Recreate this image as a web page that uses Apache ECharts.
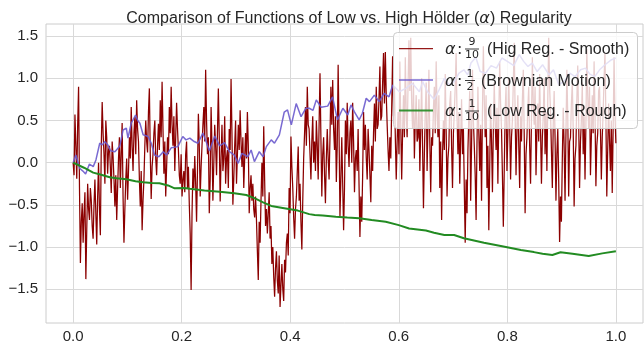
<!DOCTYPE html>
<html><head><meta charset="utf-8">
<script src="https://cdn.jsdelivr.net/npm/echarts@6/dist/echarts.min.js"></script>
<style>html,body{margin:0;padding:0;background:#fff}#c{width:644px;height:343px}</style>
</head><body><div id="c"></div>
<script>
const xTicks = [0, 0.2, 0.4, 0.6, 0.8, 1.0];
const yTicks = [-1.5, -1.0, -0.5, 0.0, 0.5, 1.0, 1.5];
const titleText = 'Comparison of Functions of Low vs. High Hölder ({i|α}) Regularity';
const legendNum = ['9', '1', '1'];
const legendDen = ['10', '2', '10'];
const legendText = ['(Hig Reg. - Smooth)', '(Brownian Motion)', '(Low Reg. - Rough)'];
const seriesNames = ['α: 9/10 (Hig Reg. - Smooth)', 'α: 1/2 (Brownian Motion)', 'α: 1/10 (Low Reg. - Rough)'];

// red series: evenly sampled on [0, 1]
const roughValues = [
 0.0, -0.15, 0.57, 0.20, -0.19, 0.45, 0.90, -0.30, -1.19, -0.70, -0.48, -0.95, -0.60, -0.35, -1.38, -0.80, -0.25, -0.55, -0.68, -0.30,
 -0.45, -0.75, -0.90, -0.50, -0.20, -0.60, -0.97, -0.40, 0.00, -0.55, -0.86, 0.20, 0.72, 0.35, 0.10, -0.25, 0.50, 0.30, -0.13, 0.15,
 0.20, -0.05, -0.36, 0.25, 0.07, -0.20, -0.52, -0.15, -0.68, -0.30, 0.05, 0.30, -0.30, 0.10, 0.47, -0.40, -0.95, -0.55, -0.20, 0.05,
 -0.44, -0.10, 0.30, 0.05, 0.66, 0.20, -0.10, 0.35, 0.54, 0.10, 0.74, 0.40, 0.25, -0.20, -0.52, -0.10, -0.80, -0.45, -0.20, 0.20,
 0.50, 0.25, 0.12, 0.60, 0.88, 0.10, -0.43, -0.05, 0.10, 0.35, 0.50, 0.05, -0.15, 0.20, 0.46, 0.15, 0.74, 0.30, 0.96, 0.40,
 -0.13, 0.25, -0.40, -0.05, 0.30, 0.10, 0.66, 0.35, 0.90, 0.45, 0.20, 0.55, -0.10, 0.30, 0.71, 0.40, 0.15, -0.15, -0.25, 0.10,
 -0.40, -0.20, -0.10, -0.35, 0.10, 0.25, -0.30, -0.05, -0.50, -0.85, -1.51, -0.60, -0.07, -0.30, 0.08, -0.25, -0.70, -0.10, 0.58, 0.20,
 -0.40, -0.05, 0.20, 0.45, 0.66, 0.25, 1.10, 0.50, 0.10, 0.30, -0.60, -0.20, 0.66, 0.20, -0.45, 0.00, 0.45, 0.20, -0.15, 0.35,
 0.88, 0.30, -0.46, 0.05, 0.45, -0.10, 0.05, 0.55, -0.25, 0.05, 0.15, -0.30, 0.40, 0.15, 0.99, 0.35, -0.50, -0.20, 0.20, 0.50,
 -0.25, 0.10, 0.45, 0.15, 0.62, 0.25, -0.05, 0.30, -0.30, 0.05, 0.35, 0.05, 0.60, 0.20, -0.60, -0.30, -0.15, -0.45, -0.25, -0.55,
 -0.65, -0.40, -0.68, -1.05, -1.39, -0.70, -0.95, -0.45, 0.00, -0.40, 0.43, -0.20, -0.75, -0.55, -0.84, -0.60, -0.35, -0.90, -0.75, -1.20,
 -1.00, -1.35, -1.59, -1.25, -1.05, -1.40, -1.55, -1.10, -1.71, -1.45, -1.20, -1.50, -1.64, -1.15, -1.30, -0.95, -0.84, -1.10, -0.30, -0.60,
 0.31, -0.05, -0.30, -0.65, -0.90, -0.55, -0.40, -0.10, 0.19, -0.45, -0.25, -0.70, -1.03, -0.45, 0.05, 0.35, 0.66, 0.20, 0.90, 0.45,
 0.40, 0.10, -0.20, 0.25, 0.55, 0.00, 0.25, -0.10, 0.50, 0.20, -0.20, 0.45, 1.06, 0.30, -0.40, 0.10, 0.30, -0.15, -0.48, 0.05,
 0.40, 0.05, -0.20, 0.30, 0.90, 0.45, 0.98, 0.40, 0.15, 0.55, -0.23, 0.20, 1.16, 0.35, -0.64, -0.20, 0.30, -0.25, -0.80, -0.30,
 0.50, 0.10, 0.71, 0.20, -0.05, 0.35, 0.50, 0.00, 0.71, 0.25, -0.35, 0.05, 0.15, -0.10, 0.40, -0.25, -0.88, -0.40, -0.70, -0.15,
 0.60, 0.15, 0.45, 0.05, -0.20, 0.40, 0.15, -0.15, -0.47, 0.20, -0.10, 0.35, 0.70, 0.25, 0.90, 0.40, 0.45, 0.75, 1.14, 0.50,
 0.55, 0.95, 1.30, 0.70, 1.31, 0.80, 0.45, 0.15, -0.10, 0.30, 0.05, 0.65, 1.26, 0.55, 0.90, 0.30, -0.20, 0.25, 0.60, 0.10,
 1.20, 0.45, -0.20, 0.35, 0.80, 0.30, 1.25, 0.60, 0.30, 0.90, 1.45, 0.85, 1.48, 0.70, 0.40, 0.95, 0.05, 0.50, 0.80, 0.25,
 0.30, 0.75, -0.10, 0.40, 1.00, 0.20, -0.54, 0.10, 0.60, 0.95, -0.10, 0.45, 1.10, 0.25, -0.35, 0.30, 0.20, 0.65, 0.90, 0.35,
 1.20, 0.60, 0.30, 0.80, -0.30, 0.25, -0.68, 0.10, 0.50, 0.15, 1.05, 0.40, -0.40, 0.05, 0.20, 0.70, 0.85, 0.20, -0.30, 0.35,
 0.60, 0.90, 1.30, 0.55, 0.10, 0.60, -0.25, 0.30, 0.75, 0.10, 0.40, -0.30, -0.95, -0.20, -0.60, 0.15, 0.55, 0.85, -0.45, 0.20,
 1.10, 0.50, 0.20, -0.15, -0.68, 0.25, 0.90, 0.35, -0.10, 0.45, -0.45, 0.60, 1.38, 0.75, 0.30, 0.80, -0.30, 0.20, -0.80, -0.05,
 0.70, 0.25, -0.35, 0.40, 0.95, 0.50, 0.15, 0.65, -0.25, 0.55, 1.20, 0.70, 0.40, -0.15, -0.76, -0.10, 0.60, 0.90, -0.10, 0.35,
 1.00, 0.45, -0.20, 0.30, 0.50, 0.95, 1.42, 0.60, -0.15, 0.40, 0.80, 0.20, -0.30, 0.55, 0.25, 0.75, 1.10, 0.35, -0.60, 0.10,
 0.30, 0.65, 0.90, 0.20, -0.25, 0.50, 1.25, 0.70, 0.45, 0.90, -0.15, 0.35, 0.70, 0.25, 1.05, 0.40, -0.25, 0.30, 0.55, 1.00,
 0.10, 0.60, -0.10, 0.75, 1.48, 0.90, 0.60, 0.15, -0.30, 0.45, 0.85, 0.30, -0.45, 0.10, 0.40, -0.20, -0.94, -0.40, -0.70, 0.05,
 0.65, 0.20, -0.45, 0.35, 1.10, 0.55, -0.40, 0.25, 0.30, 0.70, 0.95, 0.40, -0.52, 0.05, 0.20, 0.75, 1.15, 0.50, -0.30, 0.25,
 0.50, 0.95, 0.10, 0.55, -0.20, 0.45, 1.35, 0.80, 0.40, 0.90, -0.15, 0.30, 0.80, 0.35, 1.20, 0.60, -0.28, 0.20, 0.35, 0.85,
 0.90, 0.40, -0.20, 0.30, 0.60, 1.00, 1.30, 0.55, -0.40, 0.15, 0.70, 0.25, -0.10, 0.50, -0.36, 0.40, 1.25, 0.60, 0.23
];

// blue series [x, y]
const brownian = [
 [0,0],[0.005,0.09],[0.012,-0.066],[0.018,-0.10],[0.023,-0.134],[0.030,-0.016],[0.037,-0.047],[0.042,0.032],
 [0.049,0.23],[0.054,0.21],[0.058,0.25],[0.064,0.21],[0.069,0.14],[0.077,0.13],[0.086,0.198],[0.092,0.387],
 [0.098,0.41],[0.101,0.29],[0.107,0.467],[0.115,0.565],[0.119,0.50],[0.123,0.467],[0.129,0.33],[0.138,0.31],
 [0.144,0.23],[0.150,0.09],[0.158,0.07],[0.166,0.13],[0.172,0.09],[0.181,0.178],[0.193,0.19],[0.202,0.31],
 [0.208,0.27],[0.215,0.29],[0.223,0.25],[0.230,0.23],[0.239,0.35],[0.245,0.25],[0.251,0.139],[0.261,0.316],
 [0.270,0.198],[0.279,0.237],[0.288,0.13],[0.297,0.09],[0.304,-0.008],[0.311,0.11],[0.322,0.07],[0.328,0.15],
 [0.334,0.012],[0.343,0.13],[0.350,0.07],[0.356,0.19],[0.365,0.27],[0.371,0.23],[0.380,0.33],[0.389,0.60],
 [0.395,0.625],[0.402,0.447],[0.411,0.70],[0.420,0.545],[0.429,0.645],[0.435,0.645],[0.442,0.62],[0.448,0.743],
 [0.457,0.656],[0.469,0.67],[0.478,0.78],[0.487,0.506],[0.497,0.645],[0.506,0.565],[0.512,0.684],[0.518,0.604],
 [0.527,0.506],[0.533,0.585],[0.540,0.763],[0.546,0.723],[0.555,0.80],[0.564,0.723],[0.573,0.822],[0.582,0.78],
 [0.589,0.92],[0.601,0.84],[0.613,0.88],[0.625,0.94],[0.638,0.84],[0.644,0.96],[0.653,0.84],[0.665,0.75],
 [0.674,0.86],[0.684,1.00],[0.693,0.92],[0.702,0.96],[0.711,1.06],[0.720,1.10],[0.727,1.04],[0.733,1.18],
 [0.742,1.25],[0.750,1.08],[0.760,1.06],[0.770,1.15],[0.780,1.12],[0.790,1.24],[0.800,1.20],[0.812,1.15],
 [0.822,1.28],[0.830,1.20],[0.838,1.14],[0.846,1.18],[0.855,1.08],[0.865,1.16],[0.877,1.04],[0.885,1.10],
 [0.895,0.92],[0.907,0.98],[0.915,1.06],[0.925,1.02],[0.935,1.10],[0.944,1.12],[0.952,1.05],[0.961,1.02],
 [0.970,1.10],[0.980,1.16],[0.992,1.22],[1.0,1.24]
];

// green series [x, y]
const smooth = [
 [0,0],[0.02,-0.06],[0.037,-0.118],[0.05,-0.14],[0.0675,-0.173],[0.08,-0.185],[0.098,-0.197],[0.115,-0.22],
 [0.129,-0.233],[0.145,-0.24],[0.159,-0.245],[0.175,-0.27],[0.187,-0.304],[0.205,-0.30],[0.215,-0.31],[0.242,-0.33],
 [0.27,-0.345],[0.297,-0.363],[0.319,-0.383],[0.334,-0.42],[0.35,-0.47],[0.365,-0.513],[0.389,-0.54],[0.414,-0.568],
 [0.435,-0.61],[0.445,-0.62],[0.46,-0.625],[0.484,-0.64],[0.505,-0.65],[0.527,-0.66],[0.55,-0.68],[0.576,-0.70],
 [0.60,-0.74],[0.619,-0.78],[0.65,-0.805],[0.665,-0.83],[0.684,-0.857],[0.702,-0.857],[0.72,-0.896],[0.757,-0.948],
 [0.788,-0.987],[0.825,-1.034],[0.849,-1.06],[0.865,-1.08],[0.883,-1.094],[0.898,-1.062],[0.92,-1.08],[0.95,-1.105],
 [0.975,-1.075],[1.0,-1.05]
];

const colors = ['#8B0000', '#6A5ACD', '#228B22'];
const widths = [1.25, 1.5, 2];
const FONT = '"Liberation Sans", Arial, sans-serif';
const TXT = '#262626';

const chart = echarts.init(document.getElementById('c'), null, {renderer: 'canvas'});

const roughData = roughValues.map((v, i) => [i / (roughValues.length - 1), v]);

// legend drawn as graphics (fractions need stacked text)
const rowsY = [48.5, 80, 110.5];
const fracW = [14, 10, 14];
const textX = [487, 481, 487];
const legendEls = [{
  type: 'rect', shape: {x: 393.5, y: 32.5, width: 244, height: 96, r: 4},
  style: {fill: 'rgba(255,255,255,0.8)', stroke: '#cccccc', lineWidth: 1}, z: 100
}];
rowsY.forEach((y, k) => {
  legendEls.push({type: 'line', shape: {x1: 399, y1: y, x2: 433, y2: y},
    style: {stroke: colors[k], lineWidth: widths[k], opacity: 0.9}, z: 101});
  legendEls.push({type: 'text', x: 445, y: y + 1.5, style: {text: 'α', font: 'italic 16px "DejaVu Sans"', fill: TXT, textVerticalAlign: 'middle'}, z: 101});
  legendEls.push({type: 'text', x: 457, y: y + 1.5, style: {text: ':', font: '16px "DejaVu Sans"', fill: TXT, textVerticalAlign: 'middle'}, z: 101});
  const cx = 465 + fracW[k] / 2;
  legendEls.push({type: 'text', x: cx, y: y - 6, style: {text: legendNum[k], font: '11px "DejaVu Sans"', fill: TXT, textAlign: 'center', textVerticalAlign: 'middle'}, z: 101});
  legendEls.push({type: 'line', shape: {x1: 465, y1: y + 0.5, x2: 465 + fracW[k], y2: y + 0.5}, style: {stroke: TXT, lineWidth: 0.9}, z: 101});
  legendEls.push({type: 'text', x: cx, y: y + 7, style: {text: legendDen[k], font: '11px "DejaVu Sans"', fill: TXT, textAlign: 'center', textVerticalAlign: 'middle'}, z: 101});
  legendEls.push({type: 'text', x: textX[k], y: y + 1.5, style: {text: legendText[k], font: '16px ' + FONT, fill: TXT, textVerticalAlign: 'middle'}, z: 101});
});

const option = {
  animation: false,
  backgroundColor: '#ffffff',
  title: {
    text: titleText, left: 344, top: 6, textAlign: 'center',
    textStyle: {fontFamily: FONT, fontSize: 16, fontWeight: 'normal', color: TXT,
      rich: {i: {fontFamily: '"DejaVu Sans"', fontStyle: 'italic', fontSize: 16, color: TXT}}}
  },
  grid: {left: 46, right: 1, top: 24, bottom: 20, show: true, borderColor: '#cccccc', borderWidth: 1,
    backgroundColor: '#ffffff', containLabel: false, outerBoundsMode: 'none'},
  xAxis: {
    type: 'value', min: -0.05, max: 1.05,
    axisLine: {show: false}, axisTick: {show: false, customValues: xTicks},
    axisLabel: {customValues: xTicks, formatter: v => v.toFixed(1), fontFamily: FONT, fontSize: 15, color: TXT, margin: 6},
    splitLine: {show: true, lineStyle: {color: '#d9d9d9', width: 1}}
  },
  yAxis: {
    type: 'value', min: -1.9, max: 1.643,
    axisLine: {show: false}, axisTick: {show: false, customValues: yTicks},
    axisLabel: {customValues: yTicks, formatter: v => (v < 0 ? '\u2212' : '') + Math.abs(v).toFixed(1), fontFamily: FONT, fontSize: 15, color: TXT, margin: 8},
    splitLine: {show: true, lineStyle: {color: '#d9d9d9', width: 1}}
  },
  series: [
    {name: seriesNames[0], type: 'line', data: roughData, showSymbol: false, symbol: 'none', sampling: null,
      lineStyle: {color: colors[0], width: widths[0], opacity: 1}, z: 2},
    {name: seriesNames[1], type: 'line', data: brownian, showSymbol: false, symbol: 'none',
      lineStyle: {color: colors[1], width: widths[1], opacity: 0.9}, z: 3},
    {name: seriesNames[2], type: 'line', data: smooth, showSymbol: false, symbol: 'none',
      lineStyle: {color: colors[2], width: widths[2], opacity: 1}, z: 4}
  ],
  graphic: legendEls
};
chart.setOption(option);
</script>
</body></html>
